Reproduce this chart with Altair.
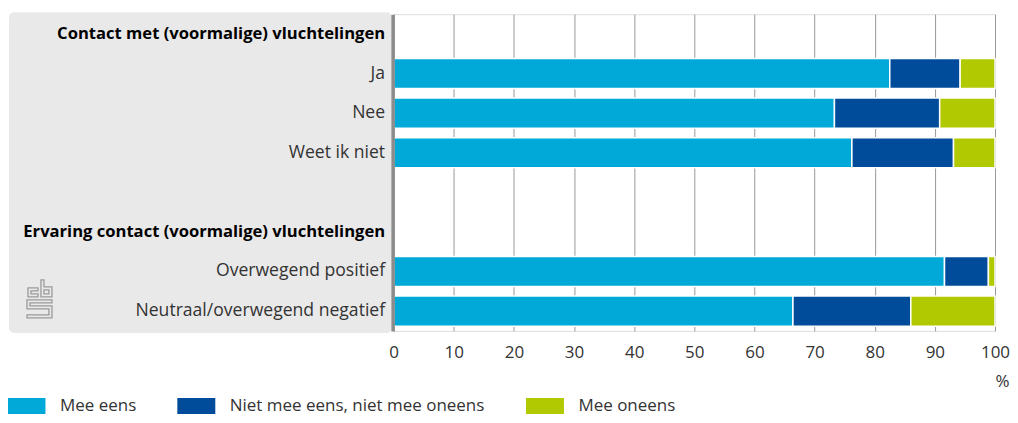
import altair as alt
import pandas as pd

rows = [
    "Contact met (voormalige) vluchtelingen",
    "Ja",
    "Nee",
    "Weet ik niet",
    " ",
    "Ervaring contact (voormalige) vluchtelingen",
    "Overwegend positief",
    "Neutraal/overwegend negatief",
]
headers = [rows[0], rows[5]]
categories = ["Ja", "Nee", "Weet ik niet", "Overwegend positief", "Neutraal/overwegend negatief"]
series = ["Mee eens", "Niet mee eens, niet mee oneens", "Mee oneens"]
mee_eens = [82.5, 73.3, 76.2, 91.6, 66.4]
neutraal = [11.7, 17.5, 16.9, 7.3, 19.6]
mee_oneens = [5.8, 9.2, 6.9, 1.1, 14.0]
colors = ["#00a9d8", "#004c9b", "#b1c900"]
x_ticks = list(range(0, 101, 10))

recs = []
for i, c in enumerate(categories):
    for j, (s, vals) in enumerate(zip(series, [mee_eens, neutraal, mee_oneens])):
        recs.append({"cat": c, "serie": s, "waarde": vals[i], "ord": j})
df = pd.DataFrame(recs)

W, H = 602, 317
FONT = "Open Sans"

hdr_test = "indexof(" + str(headers) + ", datum.value) >= 0"

bars = alt.Chart(df).mark_bar(stroke="white", strokeWidth=1.5).encode(
    x=alt.X(
        "waarde:Q",
        stack="zero",
        scale=alt.Scale(domain=[0, 100], nice=False),
        axis=alt.Axis(
            values=x_ticks,
            grid=True,
            gridColor="#999999",
            gridWidth=1,
            domain=False,
            ticks=False,
            labelFlush=False,
            labelPadding=14,
            labelFontSize=17,
            labelColor="#333333",
            labelFont=FONT,
            title="%",
            titleFont=FONT,
            titleFontSize=17,
            titleFontWeight="normal",
            titleColor="#333333",
            titleAlign="right",
            titleBaseline="middle",
            titleX=616,
            titleY=51,
            titleAngle=0,
        ),
    ),
    y=alt.Y(
        "cat:N",
        scale=alt.Scale(domain=rows, paddingInner=0.24, paddingOuter=0.12),
        axis=alt.Axis(
            title=None,
            ticks=False,
            domain=True,
            domainColor="#8c8c8c",
            domainWidth=3.5,
            offset=1,
            labelPadding=8,
            labelFont=FONT,
            labelFontSize={"condition": {"test": hdr_test, "value": 16.6}, "value": 17.6},
            labelLimit=400,
            labelColor={"condition": {"test": hdr_test, "value": "#000000"}, "value": "#333333"},
            labelFontWeight={"condition": {"test": hdr_test, "value": "bold"}, "value": "normal"},
            minExtent=385,
            maxExtent=385,
            zindex=1,
        ),
    ),
    color=alt.Color(
        "serie:N",
        scale=alt.Scale(domain=series, range=colors),
        legend=alt.Legend(
            title=None,
            orient="none",
            legendX=-376,
            legendY=383.5,
            direction="horizontal",
            symbolType="M-2.375,-1H2.375V1H-2.375Z",
            symbolSize=256,
            symbolStrokeWidth=0,
            symbolOpacity=1,
            labelOffset=25,
            labelFont=FONT,
            labelFontSize=17,
            labelColor="#333333",
            columnPadding=40,
            labelLimit=400,
        ),
    ),
    order=alt.Order("ord:Q"),
)

one = pd.DataFrame({"a": [0]})
bg = alt.Chart(one).mark_rect(fill="#e9e9e9", cornerRadius=5).encode(
    x=alt.value(-385), x2=alt.value(-2), y=alt.value(-2), y2=alt.value(H + 2)
)

# CBS logo outline (decoration), pixel offsets around centre scaled to unit box
cx, cy, r = 38.5, 299.0, 19.0
polys = [
    [(37, 288), (27, 288), (27, 297), (37, 297), (37, 294), (30, 294), (30, 291), (37, 291)],
    [(40, 280), (43, 280), (43, 287), (51, 287), (51, 297), (40, 297)],
    [(43, 290), (48, 290), (48, 294), (43, 294)],
    [(51, 300), (26, 300), (26, 309), (48, 309), (48, 315), (26, 315), (26, 318), (51, 318),
     (51, 306), (29, 306), (29, 303), (51, 303)],
]
path = ""
for p in polys:
    path += "M" + " L".join(f"{(px - cx) / r:.3f},{(py - cy) / r:.3f}" for px, py in p) + "Z"
logo = alt.Chart(one).mark_point(
    shape=path, size=(2 * r) ** 2, filled=False, stroke="#9a9a9a", strokeWidth=1.3, opacity=1
).encode(x=alt.value(cx - 8 - 385), y=alt.value(cy - 14))

chart = alt.layer(bg, logo, bars).properties(
    width=W, height=H, padding={"top": 4, "left": 0, "right": 0, "bottom": 0}
).configure_view(stroke=None).configure(font=FONT)

chart.save("out.html", embed_options={"renderer": "svg", "actions": False})
